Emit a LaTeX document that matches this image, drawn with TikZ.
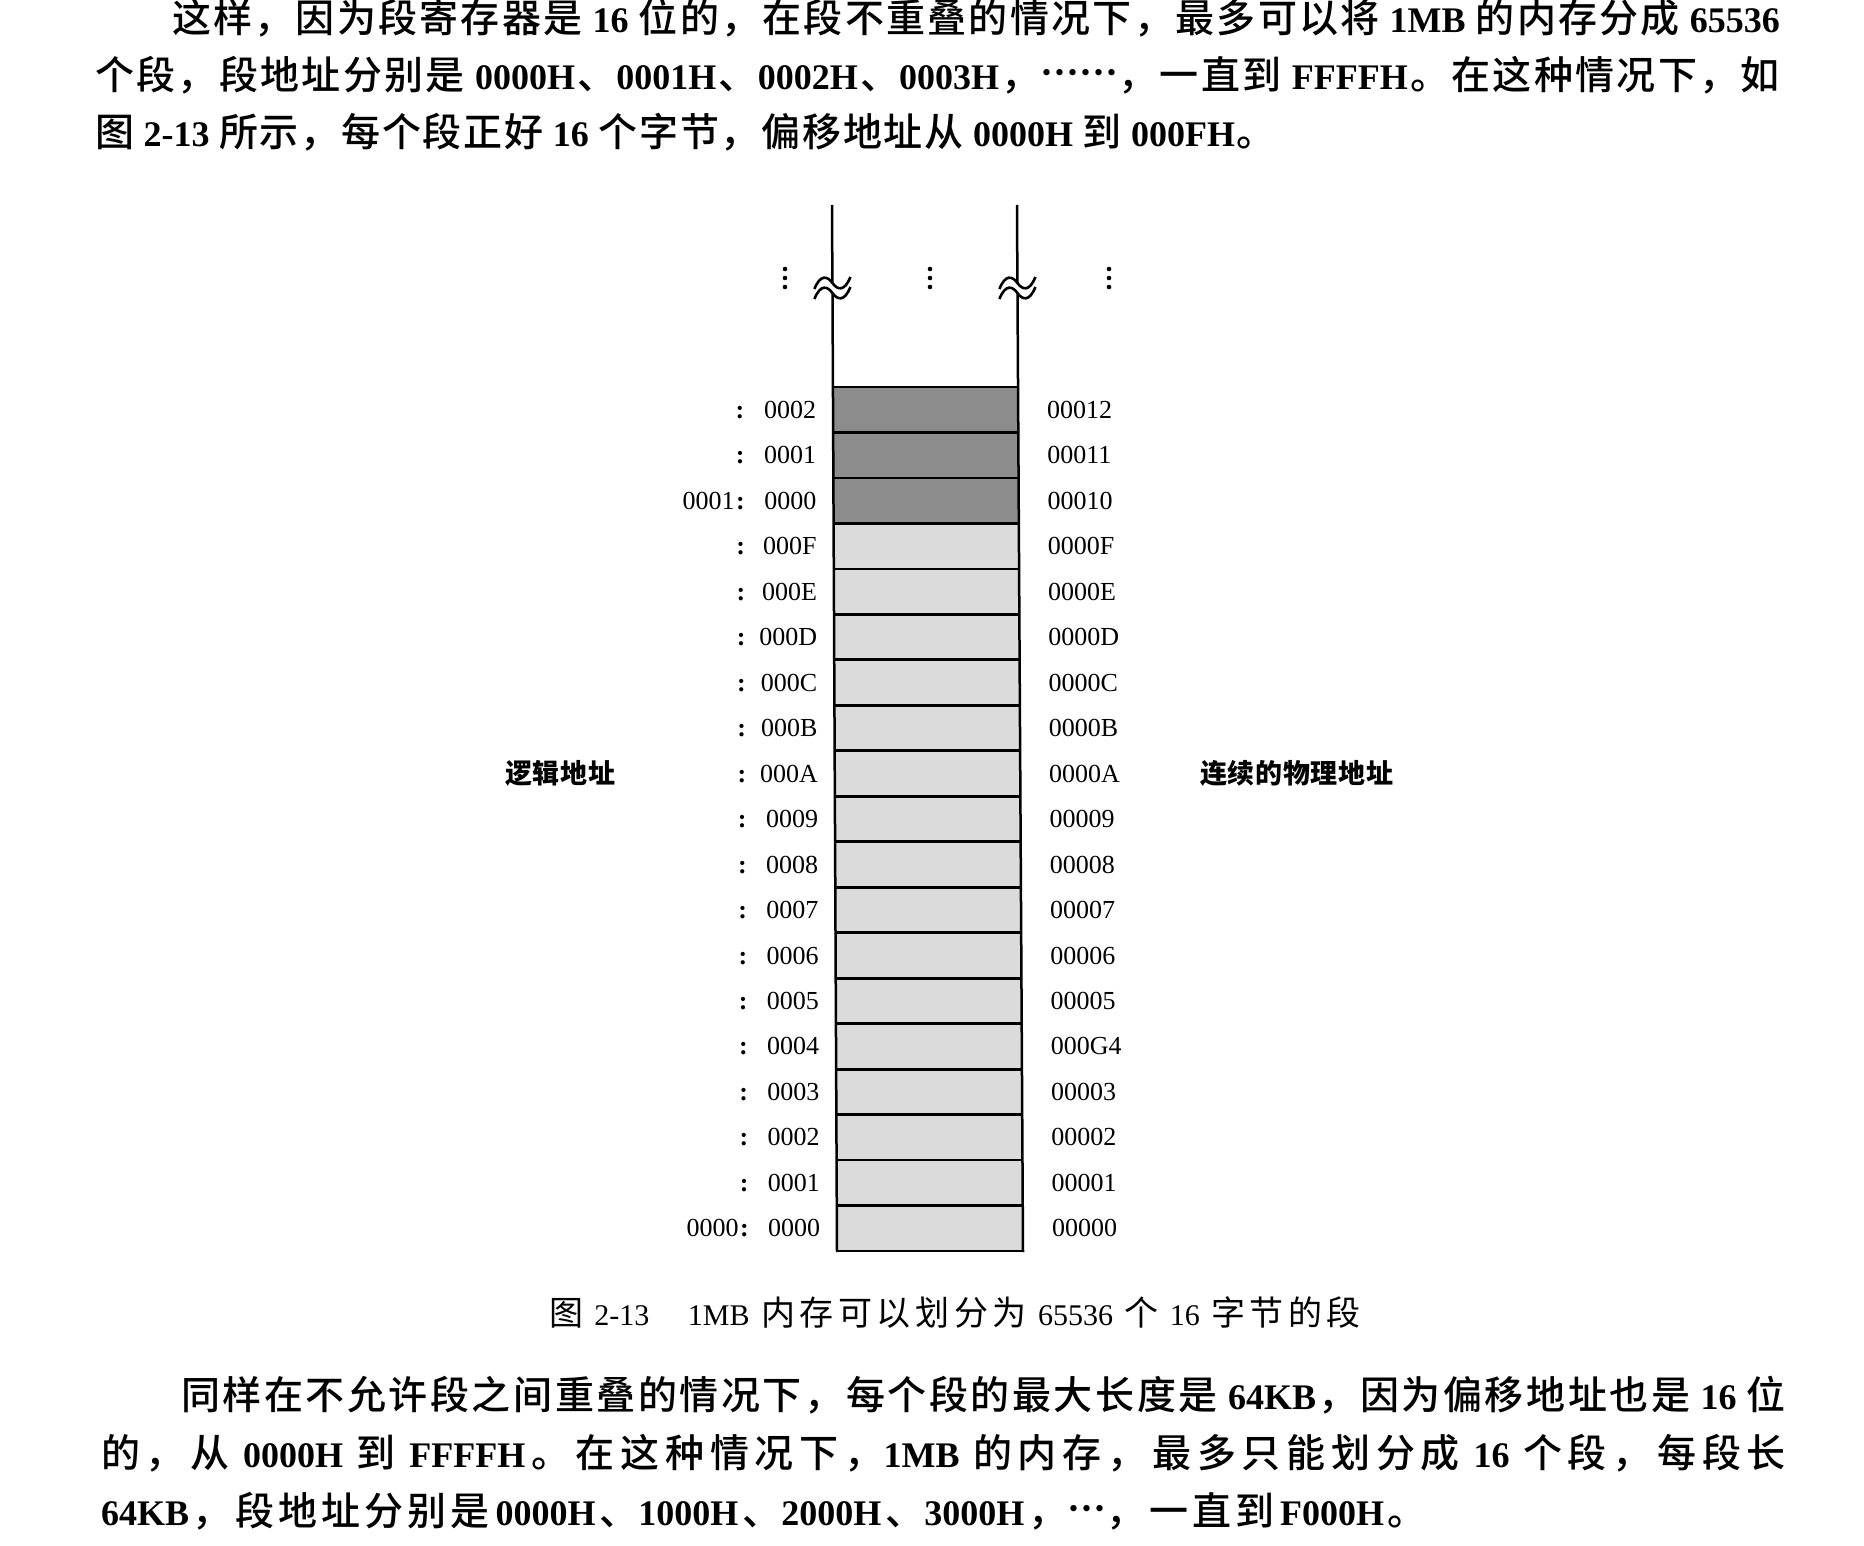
\documentclass[tikz,border=0pt]{standalone}
\usepackage{fontspec}
\setmainfont{Liberation Serif}
\newfontfamily\cjk{Noto Sans CJK SC}
\newfontfamily\cjkm{Noto Sans CJK SC Medium}
\usetikzlibrary{calc}
\definecolor{darkcell}{gray}{0.55}
\definecolor{lightcell}{gray}{0.86}
\newcommand\zhaux[2]{#1\ifx\relax#2\else\hskip0pt plus 1fil\expandafter\zhaux\expandafter#2\fi}
\newcommand\zh[1]{{\cjk\zhaux#1\relax}}
\newcommand\zm[1]{{\cjkm\zhaux#1\relax}}
\newcommand\gl{\hskip0pt plus 1fil}
\newcommand\sps{\hskip 0.2em plus 1fil}
\newcommand\la[1]{{\fontsize{36}{40}\selectfont\bfseries #1}}
\newcommand\lc[1]{{\fontsize{30}{32}\selectfont #1}}
\newcommand\middots{\raisebox{4pt}{\makebox[1em][s]{\bfseries\hfil·\hfil·\hfil·\hfil}}}
\tikzset{
  para/.style={anchor=west, font=\fontsize{39}{40}\selectfont},
  capt/.style={anchor=west, font=\fontsize{34}{36}\selectfont},
  addr/.style={font=\fontsize{26}{30}\selectfont},
  bigl/.style={anchor=west, font=\fontsize{27}{30}\selectfont\bfseries},
  edge/.style={line width=2.5pt, black},
  rule/.style={line width=2.8pt, black},
}
\begin{document}
\begin{tikzpicture}[x=1pt,y=-1pt, every node/.style={inner sep=0pt, outer sep=0pt}]
\useasboundingbox (0,0) rectangle (1864,1546);
% paragraph 1
\node[para] (p1a) at (172,18) {\makebox[1608pt][s]{\zm{这样，因为段寄存器是}\sps\la{16}\sps\zm{位的，在段不重叠的情况下，最多可以将}\sps\la{1MB}\sps\zm{的内存分成}\sps\la{65536}}};
\node[para] (p1b) at (95,75) {\makebox[1685pt][s]{\zm{个段，段地址分别是}\sps\la{0000H}\gl\zm{、}\la{0001H}\gl\zm{、}\la{0002H}\gl\zm{、}\la{0003H}\gl\zm{，}\middots\middots\zm{，一直到}\sps\la{FFFFH}\gl\zm{。在这种情况下，如}}};
\node[para] (p1c) at (95,132) {\makebox[1181pt][s]{\zm{图}\sps\la{2-13}\sps\zm{所示，每个段正好}\sps\la{16}\sps\zm{个字节，偏移地址从}\sps\la{0000H}\sps\zm{到}\sps\la{000FH}\gl\zm{。}}};
% cells
\foreach \i in {0,...,18}{
  \pgfmathsetmacro\yb{1251-\i*45.47}
  \pgfmathsetmacro\yt{\yb-45.47}
  \pgfmathsetmacro\xlb{832+5*(\yb-205)/1046}
  \pgfmathsetmacro\xlt{832+5*(\yt-205)/1046}
  \pgfmathsetmacro\xrb{1017+6*(\yb-205)/1046}
  \pgfmathsetmacro\xrt{1017+6*(\yt-205)/1046}
  \ifnum\i>15 \def\cc{darkcell}\else\def\cc{lightcell}\fi
  \fill[\cc] (\xlb,\yb) -- (\xrb,\yb) -- (\xrt,\yt) -- (\xlt,\yt) -- cycle;
}
\foreach \j in {0,...,19}{
  \pgfmathsetmacro\yy{1251-\j*45.47}
  \pgfmathsetmacro\xl{832+5*(\yy-205)/1046}
  \pgfmathsetmacro\xr{1017+6*(\yy-205)/1046}
  \draw[rule] (\xl,\yy) -- (\xr,\yy);
}
% side edges with breaks
\draw[edge] (832,205) -- (832.4,283);
\draw[edge] (832.5,293) -- (837,1252);
\draw[edge] (1017,205) -- (1017.4,283);
\draw[edge] (1017.5,293) -- (1023,1252);
\foreach \x in {832.4,1017.4}{
  \foreach \d in {0,10}{
    \draw[line width=2.6pt] (\x-18,289+\d) .. controls (\x-12,274+\d) and (\x-5,276+\d) .. (\x,283+\d) .. controls (\x+5,290+\d) and (\x+12,292+\d) .. (\x+18,277+\d);
  }
}
% vertical ellipses
\foreach \x in {785,930,1109}{
  \foreach \y in {269,278,287}{
    \fill (\x,\y) circle (2.3);
  }
}
% address labels
\foreach \i/\ofs/\seg/\phys in {0/0000/0000/00000,1/0001//00001,2/0002//00002,3/0003//00003,4/0004//000G4,5/0005//00005,6/0006//00006,7/0007//00007,8/0008//00008,9/0009//00009,10/000A//0000A,11/000B//0000B,12/000C//0000C,13/000D//0000D,14/000E//0000E,15/000F//0000F,16/0000/0001/00010,17/0001//00011,18/0002//00012}{
  \pgfmathsetmacro\yc{1251-(\i+0.5)*45.47+8.6}
  \pgfmathsetmacro\xo{820-4*\i/18}
  \pgfmathsetmacro\xc{744.5-4.5*\i/18}
  \pgfmathsetmacro\xp{1052-5*\i/18}
  \node[addr, anchor=base east] (o\i) at (\xo,\yc) {\ofs};
  \node[addr, anchor=base, font=\fontsize{26}{30}\selectfont\bfseries] (c\i) at (\xc,\yc) {:};
  \node[addr, anchor=base east] (s\i) at (\xc-6,\yc) {\seg};
  \node[addr, anchor=base west] (r\i) at (\xp,\yc) {\phys};
}
\node[bigl] (logic) at (505,773) {\makebox[110pt][s]{\zh{逻辑地址}}};
\node[bigl] (phys) at (1200,773) {\makebox[193pt][s]{\zh{连续的物理地址}}};
% caption
\node[capt] (cap) at (549,1313) {\makebox[812pt][s]{\zh{图}\sps\lc{2-13}\hskip 1em plus 1fil\lc{1MB}\sps\zh{内存可以划分为}\sps\lc{65536}\sps\zh{个}\sps\lc{16}\sps\zh{字节的段}}};
% paragraph 2
\node[para] (p2a) at (181,1395) {\makebox[1605pt][s]{\zm{同样在不允许段之间重叠的情况下，每个段的最大长度是}\sps\la{64KB}\gl\zm{，因为偏移地址也是}\sps\la{16}\sps\zm{位}}};
\node[para] (p2b) at (101,1453) {\makebox[1685pt][s]{\zm{的，从}\sps\la{0000H}\sps\zm{到}\sps\la{FFFFH}\gl\zm{。在这种情况下，}\la{1MB}\sps\zm{的内存，最多只能划分成}\sps\la{16}\sps\zm{个段，每段长}}};
\node[para] (p2c) at (101,1511) {\makebox[1326pt][s]{\la{64KB}\gl\zm{，段地址分别是}\hskip0.15em\la{0000H}\gl\zm{、}\la{1000H}\gl\zm{、}\la{2000H}\gl\zm{、}\la{3000H}\gl\zm{，}\middots\zm{，一直到}\hskip0.15em\la{F000H}\gl\zm{。}}};
\end{tikzpicture}
\end{document}
